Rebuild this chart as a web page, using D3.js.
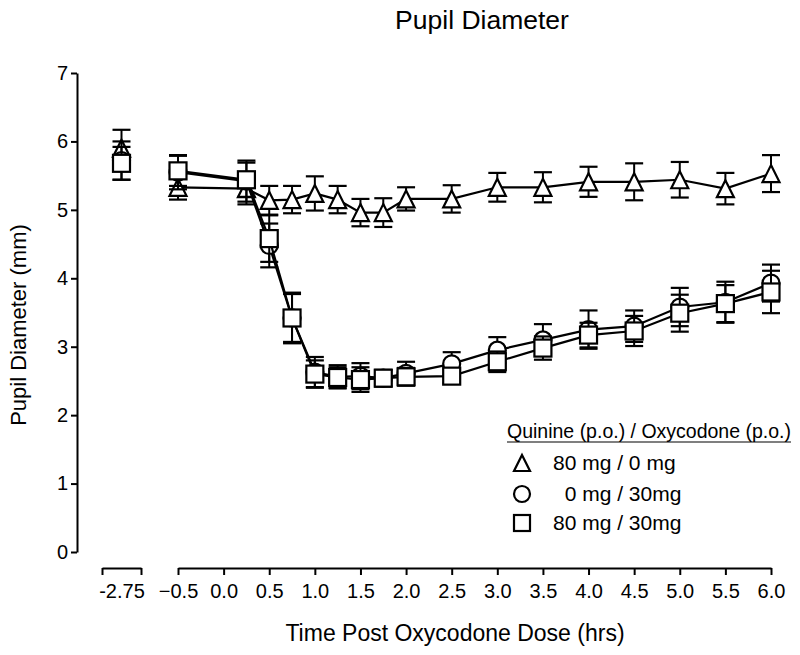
<!DOCTYPE html>
<html>
<head>
<meta charset="utf-8">
<script src="https://cdn.jsdelivr.net/npm/d3@7"></script>
<style>
  body { margin: 0; background: #fff; }
  svg { display: block; }
  text { font-family: "Liberation Sans", Arial, Helvetica, sans-serif; fill: #000; }
</style>
</head>
<body>
<svg id="chart" width="800" height="655"></svg>
<script>
// ---- Data ----
const times = [-2.75, -0.5, 0.25, 0.5, 0.75, 1.0, 1.25, 1.5, 1.75, 2.0, 2.5, 3.0, 3.5, 4.0, 4.5, 5.0, 5.5, 6.0];
const triMean  = [5.90, 5.33, 5.31, 5.14, 5.15, 5.24, 5.15, 4.96, 4.96, 5.16, 5.16, 5.33, 5.33, 5.41, 5.41, 5.44, 5.31, 5.53];
const triSem   = [0.27, 0.18, 0.23, 0.21, 0.20, 0.25, 0.20, 0.20, 0.21, 0.17, 0.20, 0.21, 0.22, 0.22, 0.27, 0.26, 0.23, 0.27];
const circMean = [5.72, 5.55, 5.42, 4.48, 3.42, 2.63, 2.56, 2.57, 2.54, 2.61, 2.75, 2.95, 3.10, 3.25, 3.30, 3.58, 3.65, 3.93];
const circSem  = [0.28, 0.25, 0.30, 0.32, 0.37, 0.22, 0.17, 0.19, 0.12, 0.17, 0.17, 0.19, 0.23, 0.28, 0.23, 0.28, 0.30, 0.27];
const sqMean   = [5.68, 5.57, 5.44, 4.58, 3.42, 2.60, 2.55, 2.52, 2.54, 2.56, 2.57, 2.78, 2.98, 3.17, 3.23, 3.49, 3.63, 3.80];
const sqSem    = [0.24, 0.22, 0.25, 0.34, 0.35, 0.20, 0.15, 0.18, 0.12, 0.13, 0.10, 0.15, 0.17, 0.18, 0.22, 0.27, 0.27, 0.31];
const seriesLabels = ["80 mg / 0 mg", "\u00a0\u00a00 mg / 30mg", "80 mg / 30mg"];
const seriesShapes = ["triangle", "circle", "square"];
const legendTitle = "Quinine (p.o.) / Oxycodone (p.o.)";
const yTicks = [0, 1, 2, 3, 4, 5, 6, 7];
const xTicks = [-0.5, 0.0, 0.5, 1.0, 1.5, 2.0, 2.5, 3.0, 3.5, 4.0, 4.5, 5.0, 5.5, 6.0];
const title = "Pupil Diameter";
const xTitle = "Time Post Oxycodone Dose (hrs)";
const yTitle = "Pupil Diameter (mm)";

// ---- Scales ----
const svg = d3.select("#chart");
const y = d3.scaleLinear().domain([0, 7]).range([552, 73]);
const x1 = d3.scaleLinear().domain([-3, -2.5]).range([102, 141]);
const x2 = d3.scaleLinear().domain([-0.5, 6]).range([178, 771]);
const xPos = t => t < -1 ? x1(t) : x2(t);
const axisY = 568;

// ---- Axes ----
const yAxis = svg.append("g").attr("transform", "translate(77,0)")
  .call(d3.axisLeft(y).tickValues(yTicks).tickFormat(d3.format("d")).tickSize(6).tickSizeOuter(0).tickPadding(3));
const ax1 = svg.append("g").attr("transform", `translate(0,${axisY})`)
  .call(d3.axisBottom(x1).tickValues([-3, -2.75, -2.5]).tickFormat(d => d === -2.75 ? "-2.75" : "").tickSize(7).tickSizeOuter(0).tickPadding(9));
ax1.selectAll(".tick").filter(d => d === -2.75).select("line").remove();
const ax2 = svg.append("g").attr("transform", `translate(0,${axisY})`)
  .call(d3.axisBottom(x2).tickValues(xTicks).tickFormat(d3.format(".1f")).tickSize(7).tickSizeOuter(0).tickPadding(9));
[yAxis, ax1, ax2].forEach(g => {
  g.selectAll("path.domain").attr("stroke", "#000").attr("stroke-width", 2);
  g.selectAll(".tick line").attr("stroke", "#000").attr("stroke-width", 2);
  g.selectAll(".tick text").style("font-size", "20px").attr("fill", "#000")
    .style("font-family", '"Liberation Sans", Arial, sans-serif');
});

// ---- Titles ----
svg.append("text").attr("x", 482).attr("y", 29).attr("text-anchor", "middle")
  .style("font-size", "26.5px").text(title);
svg.append("text").attr("x", 455).attr("y", 641).attr("text-anchor", "middle")
  .style("font-size", "23px").text(xTitle);
svg.append("text").attr("transform", "translate(26,325) rotate(-90)").attr("text-anchor", "middle")
  .style("font-size", "22px").text(yTitle);

// ---- Markers ----
function drawMarker(g, shape, cx, cy, s) {
  const h = s / 2;
  if (shape === "triangle") {
    g.append("path").attr("d", `M${cx},${cy - h} L${cx + h},${cy + h} L${cx - h},${cy + h} Z`)
      .attr("fill", "#fff").attr("stroke", "#000").attr("stroke-width", 2.2);
  } else if (shape === "circle") {
    g.append("circle").attr("cx", cx).attr("cy", cy).attr("r", h)
      .attr("fill", "#fff").attr("stroke", "#000").attr("stroke-width", 2.2);
  } else {
    g.append("rect").attr("x", cx - h).attr("y", cy - h).attr("width", s).attr("height", s)
      .attr("fill", "#fff").attr("stroke", "#000").attr("stroke-width", 2.2);
  }
}

const series = [
  { shape: "triangle", mean: triMean, sem: triSem },
  { shape: "circle", mean: circMean, sem: circSem },
  { shape: "square", mean: sqMean, sem: sqSem }
];

const line = d3.line().x(d => xPos(d.t)).y(d => y(d.m));
const cap = 9;

series.forEach(s => {
  const g = svg.append("g");
  const pts = times.map((t, i) => ({ t, m: s.mean[i], e: s.sem[i] }));
  // error bars
  pts.forEach(p => {
    const cx = xPos(p.t);
    const top = y(p.m + p.e), bot = y(p.m - p.e);
    g.append("line").attr("x1", cx).attr("x2", cx).attr("y1", top).attr("y2", bot)
      .attr("stroke", "#000").attr("stroke-width", 2);
    g.append("line").attr("x1", cx - cap).attr("x2", cx + cap).attr("y1", top).attr("y2", top)
      .attr("stroke", "#000").attr("stroke-width", 2.2);
    g.append("line").attr("x1", cx - cap).attr("x2", cx + cap).attr("y1", bot).attr("y2", bot)
      .attr("stroke", "#000").attr("stroke-width", 2.2);
  });
  // connecting line (excluding baseline segment)
  g.append("path").datum(pts.filter(p => p.t >= -0.5)).attr("d", line)
    .attr("fill", "none").attr("stroke", "#000").attr("stroke-width", 2.2);
  // markers
  pts.forEach(p => drawMarker(g, s.shape, xPos(p.t), y(p.m), 17));
});

// ---- Legend ----
const lg = svg.append("g");
const lt = lg.append("text").attr("x", 507).attr("y", 438).style("font-size", "19.5px").text(legendTitle);
const bb = lt.node().getBBox();
lg.append("line").attr("x1", bb.x).attr("x2", bb.x + bb.width).attr("y1", 442).attr("y2", 442)
  .attr("stroke", "#000").attr("stroke-width", 1.2);
const legY = [463, 494, 523];
seriesShapes.forEach((sh, i) => {
  drawMarker(lg, sh, 522, legY[i], 16);
  lg.append("text").attr("x", 553).attr("y", legY[i] + 7).style("font-size", "21px").text(seriesLabels[i]);
});
</script>
</body>
</html>
